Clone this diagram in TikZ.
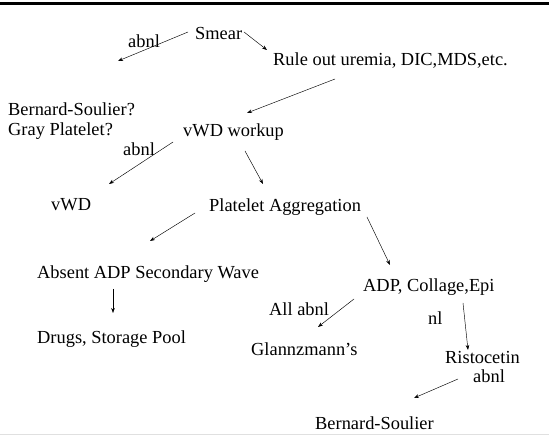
\documentclass[tikz,border=0pt]{standalone}
\usepackage{fontspec}
\setmainfont{Liberation Serif}
\usetikzlibrary{arrows.meta}
\begin{document}
\begin{tikzpicture}[x=1pt,y=-1pt,
  lbl/.style={anchor=base west,inner sep=0pt,font=\fontsize{18.4}{21}\selectfont},
  conn/.style={line width=0.45pt,-{Stealth[length=5pt,width=3.6pt]}}]
\useasboundingbox (0,0) rectangle (549,435);
\fill[white] (0,0) rectangle (549,435);
% frame lines
\draw[line width=3pt,black] (0,4) -- (549,4);
\draw[line width=1pt,black!12] (0,434.5) -- (549,434.5);
% texts
\node[lbl] (smear) at (195,40) {Smear};
\node[lbl] (abnlA) at (128,48) {abnl};
\node[lbl] (rule) at (273,66) {Rule out uremia, DIC,MDS,etc.};
\node[lbl] (bsq) at (8,116) {Bernard-Soulier?};
\node[lbl] (gpq) at (8,136) {Gray Platelet?};
\node[lbl] (vwdw) at (183,137) {vWD workup};
\node[lbl] (abnlB) at (123,156) {abnl};
\node[lbl] (vwd) at (51,211) {vWD};
\node[lbl] (pa) at (209,212) {Platelet Aggregation};
\node[lbl] (absent) at (37,279) {Absent ADP Secondary Wave};
\node[lbl] (adp) at (363,292) {ADP, Collage,Epi};
\node[lbl] (allabnl) at (269,316) {All abnl};
\node[lbl] (nl) at (428,325) {nl};
\node[lbl] (drugs) at (37,344) {Drugs, Storage Pool};
\node[lbl] (glann) at (251,356) {Glannzmann’s};
\node[lbl] (rist) at (445,364) {Ristocetin};
\node[lbl] (abnlC) at (473,383) {abnl};
\node[lbl] (bs) at (315,430) {Bernard-Soulier};
% arrow end points
\coordinate (c1a) at (188,32);  \coordinate (c1b) at (118,61);
\coordinate (c2a) at (244,32);  \coordinate (c2b) at (267,50);
\coordinate (c3a) at (335,79);  \coordinate (c3b) at (247,113);
\coordinate (c4a) at (173,142); \coordinate (c4b) at (109,184);
\coordinate (c5a) at (245,151); \coordinate (c5b) at (263,184);
\coordinate (c6a) at (195,213); \coordinate (c6b) at (150,241);
\coordinate (c7a) at (367,217); \coordinate (c7b) at (390,265);
\coordinate (c8a) at (113,289); \coordinate (c8b) at (113,313);
\coordinate (c9a) at (354,299); \coordinate (c9b) at (318,327);
\coordinate (c10a) at (463,303); \coordinate (c10b) at (468,350);
\coordinate (c11a) at (458,379); \coordinate (c11b) at (414,398);
% connectors
\draw[conn] (c1a) -- (c1b);
\draw[conn] (c2a) -- (c2b);
\draw[conn] (c3a) -- (c3b);
\draw[conn] (c4a) -- (c4b);
\draw[conn] (c5a) -- (c5b);
\draw[conn] (c6a) -- (c6b);
\draw[conn] (c7a) -- (c7b);
\draw[conn] (c8a) -- (c8b);
\draw[conn] (c9a) -- (c9b);
\draw[conn] (c10a) -- (c10b);
\draw[conn] (c11a) -- (c11b);
\end{tikzpicture}
\end{document}
